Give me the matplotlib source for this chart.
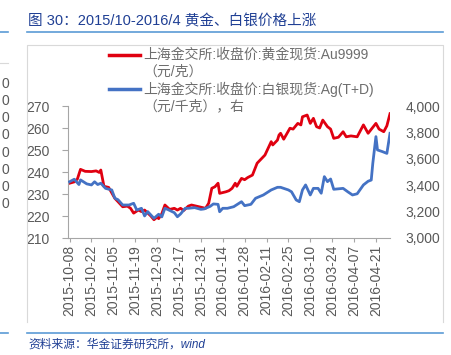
import numpy as np
import matplotlib.pyplot as plt
import matplotlib.dates as mdates
import pandas as pd
from matplotlib.lines import Line2D
from matplotlib.ticker import FuncFormatter, MultipleLocator

plt.rcParams['font.family'] = ['Liberation Sans', 'Noto Sans CJK SC', 'DejaVu Sans']

# Gold spot Au9999 (CNY/g), left axis
gold_dates = ['2015-10-08', '2015-10-11', '2015-10-13', '2015-10-15', '2015-10-18', '2015-10-22',
              '2015-10-25', '2015-10-27', '2015-10-28', '2015-10-30', '2015-11-02', '2015-11-06',
              '2015-11-08', '2015-11-11', '2015-11-14', '2015-11-16', '2015-11-18', '2015-11-21',
              '2015-11-23', '2015-11-25', '2015-11-29', '2015-12-01', '2015-12-03', '2015-12-04',
              '2015-12-06', '2015-12-08', '2015-12-11', '2015-12-14', '2015-12-16', '2015-12-18',
              '2015-12-20', '2015-12-23', '2015-12-25', '2015-12-28', '2015-12-31', '2016-01-03',
              '2016-01-05', '2016-01-07', '2016-01-09', '2016-01-11', '2016-01-12', '2016-01-16',
              '2016-01-18', '2016-01-20', '2016-01-22', '2016-01-23', '2016-01-26', '2016-01-28',
              '2016-01-30', '2016-02-02', '2016-02-05', '2016-02-10', '2016-02-14', '2016-02-15',
              '2016-02-18', '2016-02-19', '2016-02-20', '2016-02-22', '2016-02-26', '2016-02-28',
              '2016-03-02', '2016-03-04', '2016-03-05', '2016-03-08', '2016-03-10', '2016-03-12',
              '2016-03-14', '2016-03-16', '2016-03-18', '2016-03-21', '2016-03-23', '2016-03-25',
              '2016-03-28', '2016-03-31', '2016-04-02', '2016-04-05', '2016-04-09', '2016-04-13',
              '2016-04-16', '2016-04-21', '2016-04-23', '2016-04-26', '2016-04-28', '2016-04-30']
gold = [234.9, 235.5, 236.8, 241.2, 240.3, 240.2,
        240.5, 239.8, 240.9, 233.5, 233.0, 228.0,
        226.5, 224.2, 224.5, 223.5, 221.3, 222.7,
        222.0, 222.7, 220.0, 218.3, 219.5, 218.8,
        221.0, 225.0, 223.0, 223.5, 222.7, 223.5,
        222.5, 224.5, 225.0, 224.5, 224.0, 223.5,
        225.8, 232.6, 233.3, 234.9, 230.3, 231.0,
        231.5, 232.6, 234.9, 233.5, 237.1, 236.5,
        237.5, 238.6, 244.0, 247.7, 253.8, 252.3,
        254.5, 256.8, 257.6, 254.9, 259.9, 259.5,
        262.1, 261.4, 265.1, 265.9, 262.1, 264.4,
        260.6, 260.0, 263.6, 260.6, 259.5, 255.3,
        255.8, 258.3, 256.0, 256.4, 256.0, 261.4,
        257.6, 262.1, 259.5, 258.3, 261.0, 266.5]

# Silver spot Ag(T+D) (CNY/kg), right axis
silver_dates = ['2015-10-08', '2015-10-11', '2015-10-14', '2015-10-15', '2015-10-19', '2015-10-22',
                '2015-10-24', '2015-10-26', '2015-10-28', '2015-10-31', '2015-11-04', '2015-11-06',
                '2015-11-08', '2015-11-11', '2015-11-15', '2015-11-18', '2015-11-20', '2015-11-23',
                '2015-11-25', '2015-11-27', '2015-12-01', '2015-12-04', '2015-12-06', '2015-12-08',
                '2015-12-10', '2015-12-14', '2015-12-16', '2015-12-18', '2015-12-21', '2015-12-23',
                '2015-12-27', '2015-12-31', '2016-01-02', '2016-01-06', '2016-01-08', '2016-01-11',
                '2016-01-12', '2016-01-14', '2016-01-17', '2016-01-21', '2016-01-26', '2016-01-28',
                '2016-02-01', '2016-02-04', '2016-02-09', '2016-02-14', '2016-02-18', '2016-02-20',
                '2016-02-25', '2016-02-27', '2016-03-01', '2016-03-03', '2016-03-05', '2016-03-07',
                '2016-03-10', '2016-03-12', '2016-03-15', '2016-03-17', '2016-03-19', '2016-03-21',
                '2016-03-23', '2016-03-25', '2016-03-31', '2016-04-03', '2016-04-06', '2016-04-09',
                '2016-04-13', '2016-04-16', '2016-04-18', '2016-04-19', '2016-04-21', '2016-04-22',
                '2016-04-25', '2016-04-28', '2016-04-29', '2016-04-30']
silver = [3426, 3445, 3405, 3440, 3410, 3402,
          3426, 3405, 3415, 3376, 3364, 3301,
          3290, 3250, 3250, 3263, 3212, 3225,
          3167, 3200, 3149, 3180, 3160, 3225,
          3215, 3192, 3161, 3182, 3225, 3225,
          3230, 3217, 3220, 3240, 3258, 3255,
          3199, 3225, 3225, 3237, 3275, 3245,
          3255, 3301, 3326, 3364, 3384, 3384,
          3364, 3350, 3288, 3275, 3364, 3402,
          3326, 3376, 3376, 3339, 3465, 3427,
          3447, 3369, 3376, 3350, 3326, 3335,
          3402, 3430, 3439, 3566, 3768, 3667,
          3655, 3641, 3717, 3793]

tick_dates = pd.date_range('2015-10-08', '2016-04-21', freq='14D')

W, H = 452, 355
def fx(x):
    return x / W
def fy(y):
    return 1 - y / H

fig = plt.figure(figsize=(W / 100, H / 100), dpi=100)

# plot area
ax = fig.add_axes([fx(68), fy(238), fx(390) - fx(68), fy(106) - fy(238)])
ax2 = ax.twinx()

ax.plot(pd.to_datetime(gold_dates), gold, color='#E00010', linewidth=2.0)
ax2.plot(pd.to_datetime(silver_dates), silver, color='#4472C4', linewidth=2.0)

ax.set_xlim(pd.Timestamp('2015-10-07'), pd.Timestamp('2016-04-30'))
ax.set_ylim(210, 270)
ax.yaxis.set_major_locator(MultipleLocator(10))
ax2.set_ylim(3000, 4000)
ax2.yaxis.set_major_locator(MultipleLocator(200))
ax2.yaxis.set_major_formatter(FuncFormatter(lambda v, p: f'{v:,.0f}'))

ax.set_xticks(tick_dates)
ax.xaxis.set_major_formatter(mdates.DateFormatter('%Y-%m-%d'))

grey = '#595959'
spine_c = '#A6A6A6'
for a in (ax, ax2):
    for s in a.spines.values():
        s.set_visible(False)
ax.spines['left'].set_visible(True)
ax.spines['bottom'].set_visible(True)
ax.spines['left'].set_color(spine_c)
ax.spines['bottom'].set_color(spine_c)

ax.tick_params(axis='y', colors=spine_c, labelcolor=grey, labelsize=10, length=4, pad=9)
ax.tick_params(axis='x', colors=spine_c, labelcolor=grey, labelsize=10, length=3, pad=2,
               labelrotation=90)
ax2.tick_params(axis='y', labelcolor=grey, labelsize=10, length=0, pad=11)
ax.patch.set_visible(False)

# legend, drawn by hand so the marker sits on the first line
leg_c = '#6E6E6E'
fig.add_artist(Line2D([fx(109), fx(140)], [fy(55), fy(55)], color='#E00010', linewidth=2.5))
fig.add_artist(Line2D([fx(109), fx(140)], [fy(89), fy(89)], color='#4472C4', linewidth=2.5))
fig.text(fx(143), fy(55), '上海金交所:收盘价:黄金现货:Au9999', fontsize=10, color=leg_c, va='center')
fig.text(fx(143), fy(72), '（元/克）', fontsize=10, color=leg_c, va='center')
fig.text(fx(143), fy(89), '上海金交所:收盘价:白银现货:Ag(T+D)', fontsize=10, color=leg_c, va='center')
fig.text(fx(143), fy(106), '（元/千克），右', fontsize=10, color=leg_c, va='center')

# page decoration: title, rules, chart frame, source
fig.text(fx(28), fy(21), '图 30：2015/10-2016/4 黄金、白银价格上涨', fontsize=10.5,
         color='#1F3F94', va='center')
rule_c = '#5B9BD5'
for y in (32, 333):
    fig.add_artist(Line2D([fx(27), fx(443)], [fy(y), fy(y)], color=rule_c, linewidth=1.2))
    fig.add_artist(Line2D([0, fx(8)], [fy(y), fy(y)], color=rule_c, linewidth=1.2))
frame_c = '#D9D9D9'
fig.add_artist(Line2D([fx(27), fx(27), fx(443), fx(443)], [fy(322), fy(45), fy(45), fy(322)],
                      color=frame_c, linewidth=0.8))
fig.add_artist(Line2D([0, fx(8)], [fy(63), fy(63)], color=frame_c, linewidth=0.8))
fig.text(fx(28), fy(345), '资料来源：华金证券研究所，wind', fontsize=8.5, color='#1F3F94',
         va='center', style='italic')

# cut-off tick labels of the neighbouring chart at the left edge
for y in [84, 101, 118, 135.5, 153, 170, 187, 204]:
    fig.text(fx(9), fy(y), '0', fontsize=10, color=grey, va='center', ha='right')

fig.savefig('out.png', dpi=100)
